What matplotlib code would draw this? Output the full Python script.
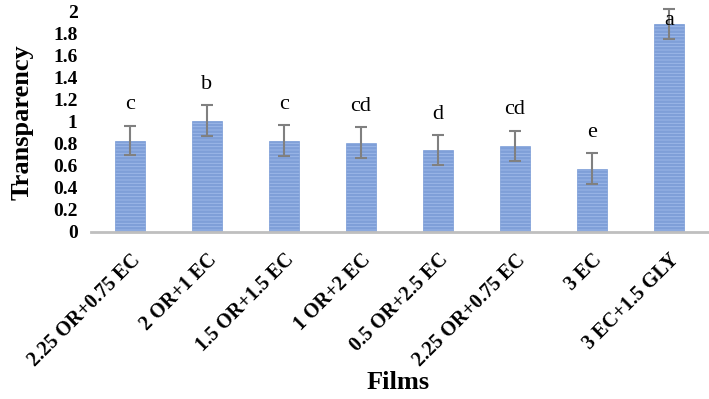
import matplotlib
matplotlib.use('Agg')
import numpy as np
import matplotlib.pyplot as plt

films = ['2.25 OR+0.75 EC', '2 OR+1 EC', '1.5 OR+1.5 EC', '1 OR+2 EC',
         '0.5 OR+2.5 EC', '2.25 OR+0.75 EC', '3 EC', '3 EC+1.5 GLY']
transparency = [0.83, 1.01, 0.83, 0.81, 0.745, 0.78, 0.575, 1.89]
errors = [0.135, 0.14, 0.14, 0.14, 0.135, 0.14, 0.14, 0.14]
letters = ['c', 'b', 'c', 'cd', 'd', 'cd', 'e', 'a']

plt.rcParams['font.family'] = 'Liberation Serif'
plt.rcParams['hatch.color'] = '#3d6cc8'
plt.rcParams['hatch.linewidth'] = 1.8

fig = plt.figure(figsize=(7.09, 3.99), dpi=100)
ax = fig.add_axes([0.129, 0.419, 0.869, 0.551])

x = np.arange(len(films))
ax.bar(x, transparency, width=0.38, color='#a0baea', hatch='-----',
       edgecolor='#7f9fd8', linewidth=0.5)
ax.errorbar(x, transparency, yerr=errors, fmt='none', ecolor='#808080',
            elinewidth=1.5, capsize=4, capthick=1.5, clip_on=False)

for xi, v, e, lab in zip(x, transparency, errors, letters):
    y = min(v + e + 0.19, 1.92)
    ax.text(xi, y, lab, ha='center', va='center', fontsize=16)

ax.set_xlim(-0.5, len(films) - 0.5)
ax.set_ylim(0, 2)
ax.set_yticks(np.arange(0, 2.01, 0.2))
ax.set_yticklabels(['0', '0.2', '0.4', '0.6', '0.8', '1', '1.2', '1.4', '1.6', '1.8', '2'],
                   fontweight='bold', fontsize=14)
ax.set_xticks(x)
ax.set_xticklabels(films, rotation=45, ha='right', rotation_mode='anchor',
                   fontweight='bold', fontsize=14.5)
ax.tick_params(axis='both', length=0)
ax.tick_params(axis='x', pad=13)
ax.tick_params(axis='y', pad=10)

for s in ['top', 'right', 'left']:
    ax.spines[s].set_visible(False)
ax.spines['bottom'].set_color('#bfbfbf')
ax.spines['bottom'].set_linewidth(2)

ax.set_ylabel('Transparency', fontweight='bold', fontsize=19, labelpad=14)
fig.text(0.561, 0.012, 'Films', ha='center', va='bottom', fontweight='bold', fontsize=19)

plt.savefig('out.png', dpi=100)
